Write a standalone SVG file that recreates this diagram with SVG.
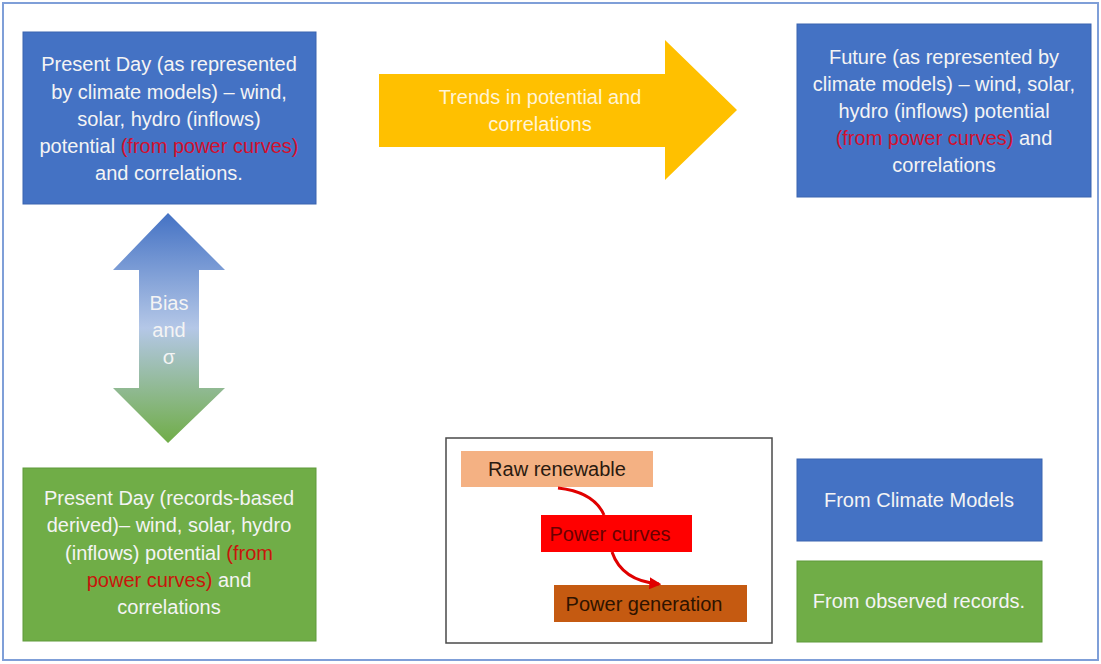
<svg xmlns="http://www.w3.org/2000/svg" width="1101" height="664" viewBox="0 0 1101 664">
<style>
.t{font-family:"Liberation Sans",Arial,sans-serif;font-size:20px;fill:#f4f4f4;text-anchor:middle}
.r{fill:#d3102e}
.rg{fill:#c8150c}
.d{font-family:"Liberation Sans",Arial,sans-serif;font-size:20px;text-anchor:middle}
.blue{fill:#4472c4;stroke:#3a64b0;stroke-width:1}
.green{fill:#70ad47;stroke:#5f9a3b;stroke-width:1}
.conn{fill:none;stroke:#e00000;stroke-width:3}
</style>
<defs>
<linearGradient id="gr" x1="0" y1="0" x2="0" y2="1">
<stop offset="0" stop-color="#4472c4"/>
<stop offset="0.5" stop-color="#b4c7e7"/>
<stop offset="1" stop-color="#70ad47"/>
</linearGradient>
<marker id="ah" viewBox="0 0 10 10" refX="8" refY="5" markerWidth="4" markerHeight="4" orient="auto">
<path d="M0,0 L10,5 L0,10 z" fill="#e00000"/>
</marker>
</defs>
<rect x="0" y="0" width="1101" height="664" fill="#ffffff"/>
<rect x="3" y="3" width="1095" height="657" fill="none" stroke="#7f9fd8" stroke-width="2"/>

<g id="present-model">
<rect class="blue" x="23" y="32" width="293" height="172"/>
<text class="t" x="169" y="71">Present Day (as represented</text>
<text class="t" x="169" y="99">by climate models) – wind,</text>
<text class="t" x="169" y="126">solar, hydro (inflows)</text>
<text class="t" x="169" y="153">potential <tspan class="r">(from power curves)</tspan></text>
<text class="t" x="169" y="180">and correlations.</text>
</g>

<g id="trends-arrow">
<polygon points="379,74 665,74 665,40 737,110 665,180 665,147 379,147" fill="#ffc000"/>
<text class="t" x="540" y="104" style="fill:#fff4d6">Trends in potential and</text>
<text class="t" x="540" y="131" style="fill:#fff4d6">correlations</text>
</g>

<g id="future-model">
<rect class="blue" x="797" y="24" width="294" height="173"/>
<text class="t" x="944" y="64">Future (as represented by</text>
<text class="t" x="944" y="91">climate models) – wind, solar,</text>
<text class="t" x="944" y="118">hydro (inflows) potential</text>
<text class="t" x="944" y="145"><tspan class="r">(from power curves)</tspan> and</text>
<text class="t" x="944" y="172">correlations</text>
</g>

<g id="bias-arrow">
<polygon points="168,213 225,270 199,270 199,388 225,388 168,443 113,388 139,388 139,270 113,270" fill="url(#gr)"/>
<text class="t" x="169" y="310">Bias</text>
<text class="t" x="169" y="337">and</text>
<text class="t" x="169" y="364">σ</text>
</g>

<g id="present-records">
<rect class="green" x="23" y="468" width="293" height="173"/>
<text class="t" x="169" y="505">Present Day (records-based</text>
<text class="t" x="169" y="532">derived)– wind, solar, hydro</text>
<text class="t" x="169" y="560">(inflows) potential <tspan class="rg">(from</tspan></text>
<text class="t" x="169" y="587"><tspan class="rg">power curves)</tspan> and</text>
<text class="t" x="169" y="614">correlations</text>
</g>

<g id="process-box">
<rect x="446" y="438" width="326" height="205" fill="#ffffff" stroke="#4a4a4a" stroke-width="1.5"/>
</g>
<g id="raw-renewable">
<rect x="461" y="451" width="192" height="36" fill="#f4b183"/>
<text class="d" x="557" y="476" fill="#2a1a10">Raw renewable</text>
</g>
<g id="power-curves">
<rect x="541" y="515" width="151" height="37" fill="#ff0000"/>
<text class="d" x="610" y="541" fill="#6a0000">Power curves</text>
</g>
<g id="power-generation">
<rect x="554" y="585" width="193" height="37" fill="#c55a11"/>
<text class="d" x="644" y="611" fill="#2e1300">Power generation</text>
</g>

<g id="connectors">
<path class="conn" d="M558,488 Q594,492 604,515"/>
<path class="conn" d="M612,552 Q622,581 659,584" marker-end="url(#ah)"/>
</g>

<g id="legend-models">
<rect class="blue" x="797" y="459" width="245" height="82"/>
<text class="t" x="919" y="507">From Climate Models</text>
</g>
<g id="legend-records">
<rect class="green" x="797" y="561" width="245" height="81"/>
<text class="t" x="919" y="608">From observed records.</text>
</g>
</svg>
